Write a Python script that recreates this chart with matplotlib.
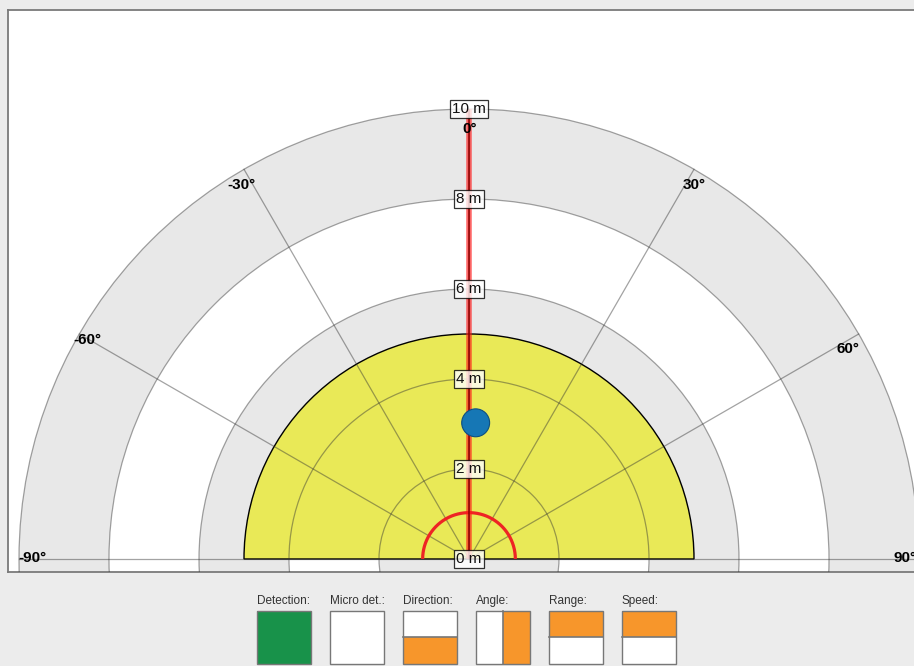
import numpy as np
import matplotlib
matplotlib.use("Agg")
import matplotlib.pyplot as plt
from matplotlib.patches import Circle, Wedge, Rectangle

plt.rcParams['font.family'] = ['Liberation Sans', 'DejaVu Sans']

# ---- data ----
ring_radii = [10, 8, 6, 4, 2]                 # m, drawn outer to inner
ring_fills = ['#e8e8e8', 'white', '#e8e8e8', 'white', '#e8e8e8']
range_ticks = [0, 2, 4, 6, 8, 10]
range_labels = ['0 m', '2 m', '4 m', '6 m', '8 m', '10 m']
angle_ticks = [-90, -60, -30, 0, 30, 60, 90]
angle_labels = ['-90°', '-60°', '-30°', '0°', '30°', '60°', '90°']

zone_range = 5.0          # detection zone radius (m)
zone_angles = (-90, 90)
near_range = 1.03         # red near-field arc (m)
beam_angle = 0            # deg
beam_range = 10.0
target_range = 3.03
target_angle = 2.8

legend_names = ['Detection:', 'Micro det.:', 'Direction:', 'Angle:', 'Range:', 'Speed:']
legend_x = [257, 330, 403, 476, 549, 622]
# fill patterns: full / top / bottom / right halves
legend_fill = ['full-green', 'none', 'bottom', 'right', 'top', 'top']

GREEN = '#18924a'
ORANGE = '#f7962b'


def to_xy(r, deg):
    a = np.radians(deg)
    return r * np.sin(a), r * np.cos(a)


fig = plt.figure(figsize=(9.14, 6.66), dpi=100, facecolor='#ececec')

W, H = 914, 666
px = 45.0  # pixels per metre
cx, cy = 469, 559
ax = fig.add_axes([8 / W, (H - 572) / H, (W - 8) / W, (572 - 10) / H])
ax.set_facecolor('white')
ax.set_xlim((8 - cx) / px, (W - cx) / px)
ax.set_ylim(-(572 - cy) / px, (cy - 10) / px)
ax.set_xticks([])
ax.set_yticks([])
for s in ['top', 'left', 'bottom']:
    ax.spines[s].set_color('#7a7a7a')
    ax.spines[s].set_linewidth(1.3)
ax.spines['right'].set_visible(False)

# background rings
for r, fc in zip(ring_radii, ring_fills):
    ax.add_patch(Circle((0, 0), r, facecolor=fc, edgecolor='none', zorder=1))

# detection zone
ax.add_patch(Wedge((0, 0), zone_range, 90 - zone_angles[1], 90 - zone_angles[0],
                   facecolor='#e9e957', edgecolor='black', lw=1.0, zorder=2))

# grid lines (circles and spokes)
for r in ring_radii:
    ax.add_patch(Circle((0, 0), r, facecolor='none', edgecolor='#333333',
                        alpha=0.45, lw=0.9, zorder=3))
for a in angle_ticks:
    x, y = to_xy(beam_range, a)
    ax.plot([0, x], [0, y], color='#333333', alpha=0.45, lw=0.9, zorder=3)

# near-field arc
t = np.linspace(-90, 90, 181)
nx, ny = to_xy(near_range, t)
ax.plot(nx, ny, color='#ee2424', lw=2.3, zorder=4, solid_capstyle='butt')

# beam
bx, by = to_xy(beam_range, beam_angle)
ax.plot([0, bx], [0, by], color='#ff1a1a', alpha=0.65, lw=4.0, zorder=4, solid_capstyle='butt')
ax.plot([0, bx], [0, by], color='#8a0000', lw=1.1, zorder=4, solid_capstyle='butt')

# target
tx, ty = to_xy(target_range, target_angle)
ax.add_patch(Circle((tx, ty), 0.31, facecolor='#1677b5', edgecolor='#0e4f80',
                    lw=0.8, zorder=5))

# range labels
for r, lab in zip(range_ticks, range_labels):
    ax.text(0, r, lab, ha='center', va='center', fontsize=11, color='#111111', zorder=6,
            bbox=dict(boxstyle='square,pad=0.12', facecolor='white', alpha=0.8,
                      edgecolor='black', lw=0.9))

# angle labels, placed around the end of each spoke (offsets in pixels)
label_place = {
    -90: ('left', 'center', -1, 1),
    -60: ('left', 'top', -6, 1),
    -30: ('center', 'top', -2.5, -9),
    0: ('center', 'top', 0.5, -13),
    30: ('center', 'top', 0.5, -9),
    60: ('right', 'top', 1, -8),
    90: ('right', 'center', -3, 1),
}
for a, lab in zip(angle_ticks, angle_labels):
    x, y = to_xy(beam_range, a)
    ha, va, dx, dy = label_place[a]
    ax.annotate(lab, (x, y), xytext=(dx * 0.72, dy * 0.72), textcoords='offset points',
                ha=ha, va=va, fontsize=11, fontweight='bold', color='black',
                zorder=6, annotation_clip=False)

# legend strip
lax = fig.add_axes([0, 0, 1, (H - 575) / H])
lax.set_xlim(0, W)
lax.set_ylim(H, 575)
lax.axis('off')
bw, bh, by0 = 54, 53, 611
for name, x0, fill in zip(legend_names, legend_x, legend_fill):
    lax.text(x0, 601, name, ha='left', va='center', fontsize=8.5, color='#333333')
    lax.add_patch(Rectangle((x0, by0), bw, bh, facecolor='white', edgecolor='none'))
    if fill == 'full-green':
        lax.add_patch(Rectangle((x0, by0), bw, bh, facecolor=GREEN, edgecolor='none'))
    elif fill == 'top':
        lax.add_patch(Rectangle((x0, by0), bw, bh / 2, facecolor=ORANGE, edgecolor='none'))
        lax.plot([x0, x0 + bw], [by0 + bh / 2] * 2, color='#777777', lw=1.2)
    elif fill == 'bottom':
        lax.add_patch(Rectangle((x0, by0 + bh / 2), bw, bh / 2, facecolor=ORANGE, edgecolor='none'))
        lax.plot([x0, x0 + bw], [by0 + bh / 2] * 2, color='#777777', lw=1.2)
    elif fill == 'right':
        lax.add_patch(Rectangle((x0 + bw / 2, by0), bw / 2, bh, facecolor=ORANGE, edgecolor='none'))
        lax.plot([x0 + bw / 2] * 2, [by0, by0 + bh], color='#777777', lw=1.2)
    lax.add_patch(Rectangle((x0, by0), bw, bh, facecolor='none', edgecolor='#777777', lw=1.0))

fig.savefig('out.png', dpi=100, facecolor=fig.get_facecolor())
